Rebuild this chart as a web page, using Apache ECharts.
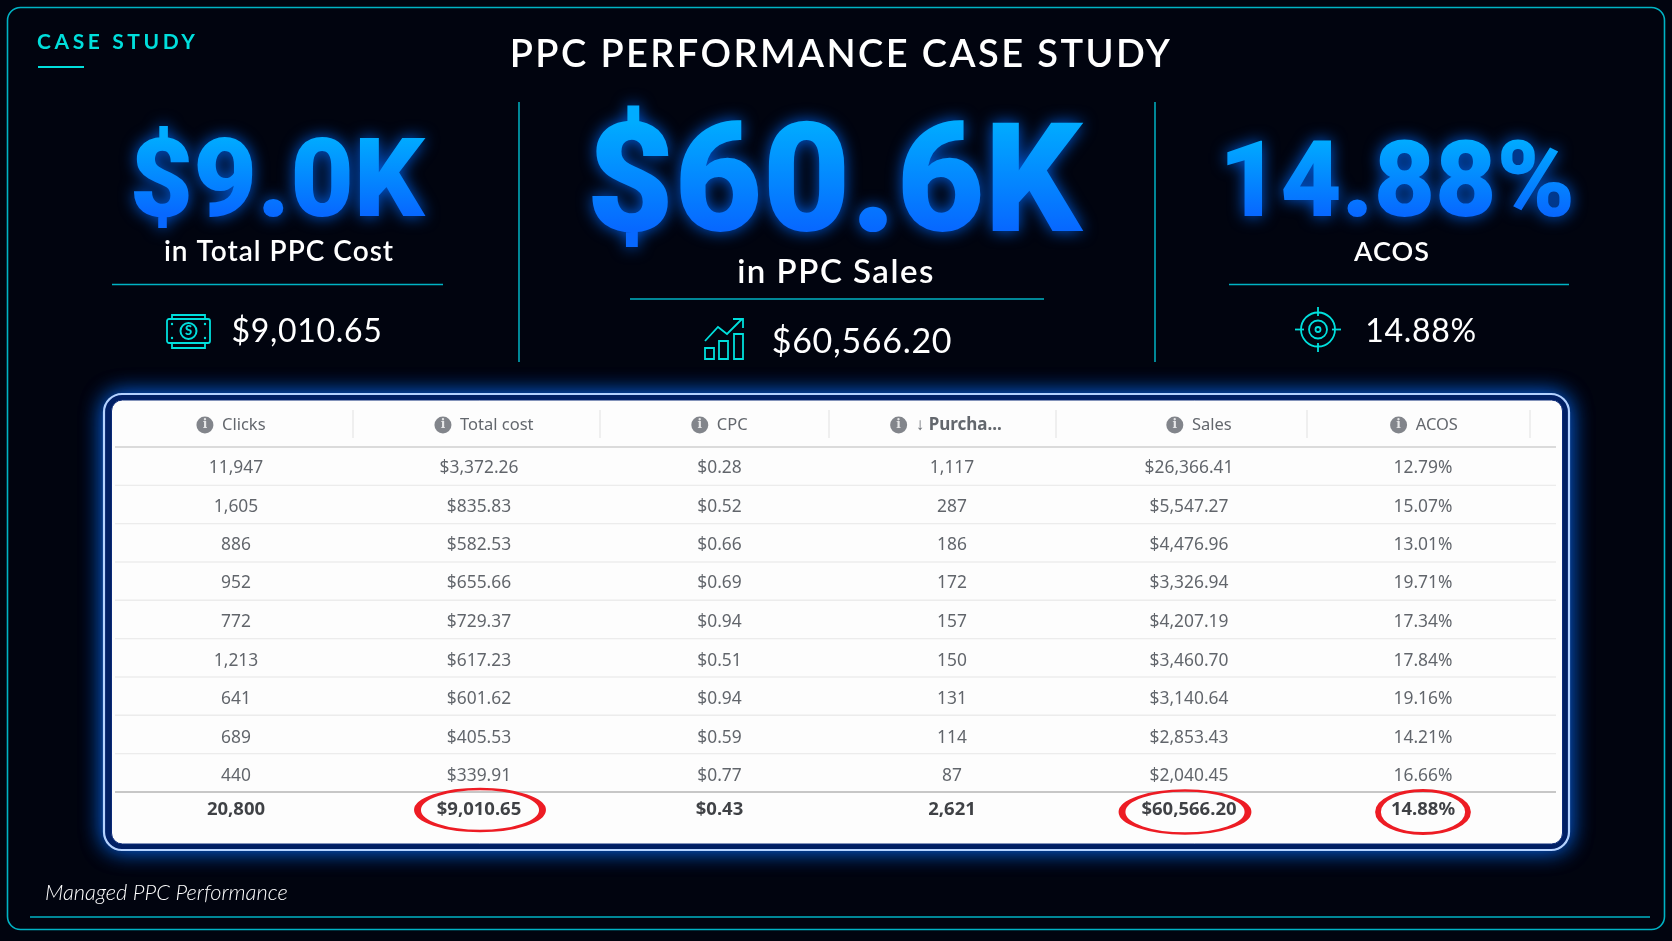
<!DOCTYPE html>
<html>
<head>
<meta charset="utf-8">
<title>PPC Performance Case Study</title>
<style>
html,body{margin:0;padding:0;background:#01040f;}
#main{width:1672px;height:941px;}
</style>
<script src="https://cdn.jsdelivr.net/npm/echarts@6/dist/echarts.min.js"></script>
</head>
<body>
<div id="main"></div>
<script>
// table data
var columns = ['Clicks', 'Total cost', 'CPC', 'Purcha...', 'Sales', 'ACOS'];
var clicks = [11947, 1605, 886, 952, 772, 1213, 641, 689, 440];
var totalCost = [3372.26, 835.83, 582.53, 655.66, 729.37, 617.23, 601.62, 405.53, 339.91];
var cpc = [0.28, 0.52, 0.66, 0.69, 0.94, 0.51, 0.94, 0.59, 0.77];
var purchases = [1117, 287, 186, 172, 157, 150, 131, 114, 87];
var sales = [26366.41, 5547.27, 4476.96, 3326.94, 4207.19, 3460.70, 3140.64, 2853.43, 2040.45];
var acos = [12.79, 15.07, 13.01, 19.71, 17.34, 17.84, 19.16, 14.21, 16.66];
var totals = [20800, 9010.65, 0.43, 2621, 60566.20, 14.88];
var circled = [1, 4, 5];

// headline texts
var heroTexts = ['$9.0K', '$60.6K', '14.88%'];
var heroLabels = ['in Total PPC Cost', 'in PPC Sales', 'ACOS'];
var heroExact = ['$9,010.65', '$60,566.20', '14.88%'];

function num(v) { return v.toLocaleString('en-US'); }
function money(v) { return '$' + v.toLocaleString('en-US', {minimumFractionDigits: 2, maximumFractionDigits: 2}); }
function pct(v) { return v.toFixed(2) + '%'; }
var formats = [num, money, money, num, money, pct];
var columnValues = [clicks, totalCost, cpc, purchases, sales, acos];

var TEAL = '#00b3c4';
var CYAN = '#00dfdc';
var LATO = 'Lato';
var HERO = 'Roboto';
var HERO_COLOR = '#0a8aff';
var TABLE = '"Noto Sans"';

var myChart = echarts.init(document.getElementById('main'));

// rows of the matrix: header, data rows, total
var rowNames = ['head'];
clicks.forEach(function (v, i) { rowNames.push('r' + i); });
rowNames.push('total');
var rowSizes = [44, 38, 39, 38, 38, 40, 38, 38, 39, 38, 34];

var headerNudge = [-5, 5, 0, -6, 10, 1];
var headerCells = columns.map(function (c, i) {
    var txt = (c === 'Purcha...') ? '{ic|i}  {b|↓ ' + c + '}' : '{ic|i}  ' + c;
    return {value: [columns[i], 'head', txt], label: {formatter: txt, offset: [headerNudge[i], 0]}};
});
var bodyCells = [];
columnValues.forEach(function (vals, c) {
    vals.forEach(function (v, r) {
        bodyCells.push({value: [columns[c], 'r' + r, formats[c](v)]});
    });
});
var totalCells = totals.map(function (v, c) {
    return {value: [columns[c], 'total', formats[c](v)]};
});
var circleSizes = {1: [125, 42], 4: [126, 43], 5: [90, 43]};
var circleOffsets = {1: [1, 0], 4: [-4, 2], 5: [0, 2]};
var circleCells = circled.map(function (c) {
    return {
        value: [columns[c], 'total'],
        symbolSize: circleSizes[c],
        symbolOffset: circleOffsets[c]
    };
});

function hLine(x1, x2, y, color, width, z) {
    return {type: 'line', silent: true, z: z || 1, shape: {x1: x1, y1: y, x2: x2, y2: y}, style: {stroke: color, lineWidth: width || 1.5}};
}
function vLine(x, y1, y2, color, width, z) {
    return {type: 'line', silent: true, z: z || 1, shape: {x1: x, y1: y1, x2: x, y2: y2}, style: {stroke: color, lineWidth: width || 1.5}};
}
function titleText(txt, x, y, size, weight, color, align, zlevel, italic) {
    return {
        text: txt, left: x, top: y, padding: 0, zlevel: zlevel || 0,
        textAlign: align || 'center', textVerticalAlign: 'middle',
        textStyle: {fontFamily: LATO, fontSize: size, fontWeight: weight, color: color, fontStyle: italic ? 'italic' : 'normal'}
    };
}
// zrender only assigns plain colours on text, so each big number gets its own layer
// and the gradient is pinned on that layer's context (text-local coordinates)
var gradCtx = document.createElement('canvas').getContext('2d');
var heroGradients = {};
function heroText(txt, x, y, size, zlevel) {
    var g = gradCtx.createLinearGradient(0, -0.47 * size, 0, 0.24 * size);
    g.addColorStop(0, '#00acff');
    g.addColorStop(1, '#0768ff');
    heroGradients[zlevel] = g;
    return {
        text: txt, left: x, top: y, padding: 0, zlevel: zlevel,
        textAlign: 'center', textVerticalAlign: 'middle',
        textStyle: {
            fontFamily: HERO, fontSize: size, fontWeight: 900, color: HERO_COLOR,
            textShadowBlur: 16, textShadowColor: 'rgba(0,105,255,0.85)'
        }
    };
}

// icons are plain line drawings
function cashIcon() {
    var s = {stroke: CYAN, lineWidth: 1.8, fill: 'none'};
    return {
        type: 'group', x: 167, y: 313, silent: true, children: [
            {type: 'rect', shape: {x: 0, y: 6, width: 43, height: 24, r: 2}, style: s},
            {type: 'polyline', shape: {points: [[5, 6], [5, 2], [38, 2], [38, 6]]}, style: s},
            {type: 'polyline', shape: {points: [[5, 30], [5, 35], [38, 35], [38, 30]]}, style: s},
            {type: 'circle', shape: {cx: 21.5, cy: 18, r: 8}, style: {stroke: CYAN, lineWidth: 2, fill: 'none'}},
            {type: 'text', style: {text: 'S', x: 21.5, y: 18, align: 'center', verticalAlign: 'middle', font: '900 13px ' + LATO, fill: CYAN}},
            {type: 'circle', shape: {cx: 5, cy: 11, r: 1.2}, style: {fill: CYAN}},
            {type: 'circle', shape: {cx: 38, cy: 11, r: 1.2}, style: {fill: CYAN}},
            {type: 'circle', shape: {cx: 5, cy: 25, r: 1.2}, style: {fill: CYAN}},
            {type: 'circle', shape: {cx: 38, cy: 25, r: 1.2}, style: {fill: CYAN}}
        ]
    };
}
function growthIcon() {
    var s = {stroke: CYAN, lineWidth: 1.8, fill: 'none'};
    return {
        type: 'group', x: 704, y: 318, silent: true, children: [
            {type: 'rect', shape: {x: 1, y: 30, width: 9, height: 11}, style: s},
            {type: 'rect', shape: {x: 15, y: 23, width: 9, height: 18}, style: s},
            {type: 'rect', shape: {x: 30, y: 16, width: 9, height: 25}, style: s},
            {type: 'polyline', shape: {points: [[1, 23], [14, 9], [23, 16], [38, 1]]}, style: s},
            {type: 'polyline', shape: {points: [[29, 1], [39, 1], [39, 10]]}, style: s}
        ]
    };
}
function targetIcon() {
    var s = {stroke: CYAN, lineWidth: 1.8, fill: 'none'};
    var cx = 23, cy = 22.5;
    return {
        type: 'group', x: 1295, y: 307, silent: true, children: [
            {type: 'circle', shape: {cx: cx, cy: cy, r: 17}, style: s},
            {type: 'circle', shape: {cx: cx, cy: cy, r: 9}, style: s},
            {type: 'circle', shape: {cx: cx, cy: cy, r: 2.5}, style: s},
            {type: 'line', shape: {x1: cx, y1: 0, x2: cx, y2: 9}, style: s},
            {type: 'line', shape: {x1: cx, y1: 36, x2: cx, y2: 45}, style: s},
            {type: 'line', shape: {x1: 0, y1: cy, x2: 9, y2: cy}, style: s},
            {type: 'line', shape: {x1: 37, y1: cy, x2: 46, y2: cy}, style: s}
        ]
    };
}

var titles = [
    titleText('CASE STUDY', 37, 42, 21, 700, CYAN, 'left', 2),
    titleText('PPC PERFORMANCE CASE STUDY', 841, 55, 38, 600, '#ffffff', 'center', 3),
    heroText(heroTexts[0], 277, 188, 110, 7),
    heroText(heroTexts[1], 834, 193, 152, 8),
    heroText(heroTexts[2], 1397, 189, 106, 9),
    titleText(heroLabels[0], 279, 252, 28, 600, '#ffffff', 'center', 5),
    titleText(heroLabels[1], 836, 272, 33, 600, '#ffffff', 'center', 6),
    titleText(heroLabels[2], 1392, 252, 27, 600, '#ffffff', 'center', 5),
    titleText(heroExact[0], 307, 332, 32, 400, '#ffffff', 'center', 4),
    titleText(heroExact[1], 862, 342, 34, 400, '#ffffff', 'center', 4),
    titleText(heroExact[2], 1421, 332, 32, 400, '#ffffff', 'center', 4),
    titleText('Managed PPC Performance', 45, 893, 21.8, 300, '#ffffff', 'left', 0, true)
];

var graphics = [
    // outer frame
    {type: 'rect', silent: true, shape: {x: 7.5, y: 7.5, width: 1657, height: 922, r: 13}, style: {fill: 'none', stroke: TEAL, lineWidth: 1.6}},
    hLine(30, 1650, 917, TEAL),
    hLine(38, 84, 67, CYAN, 2),
    vLine(519, 102, 362, TEAL),
    vLine(1155, 102, 362, TEAL),

    hLine(112, 443, 284.5, TEAL),
    hLine(630, 1044, 299, TEAL),
    hLine(1229, 1569, 284.5, TEAL),

    cashIcon(),
    growthIcon(),
    targetIcon(),

    // table panel with neon edge
    {type: 'rect', silent: true, z: -3, shape: {x: 104, y: 394, width: 1465, height: 456, r: 18}, style: {fill: '#021a58', stroke: '#b4d2ff', lineWidth: 2.2, shadowBlur: 22, shadowColor: '#0a6dff'}},
    {type: 'rect', silent: true, z: -2, shape: {x: 111.5, y: 400, width: 1451, height: 444, r: 11}, style: {fill: '#fdfdfd', stroke: '#0b2a78', lineWidth: 1}}
];

// header dividers
[353, 600, 829, 1056, 1307, 1530].forEach(function (x) {
    graphics.push(vLine(x, 410, 438, '#e6e6e6', 1.2));
});
// row lines
graphics.push(hLine(115, 1556, 447, '#cfcfcf', 1.6));
for (var r = 1; r < clicks.length; r++) {
    graphics.push(hLine(115, 1556, 447 + r * 38.33, '#ececec', 1.4));
}
graphics.push(hLine(115, 1556, 792, '#b4b4b4', 1.6));

var option = {
    backgroundColor: '#01040f',
    animation: false,
    tooltip: {show: false},
    title: titles,
    graphic: {elements: graphics},
    matrix: {
        left: 115, top: 403, width: 1441, height: 424,
        x: {
            show: false,
            data: [
                {value: columns[0], size: 242},
                {value: columns[1], size: 244},
                {value: columns[2], size: 237},
                {value: columns[3], size: 228},
                {value: columns[4], size: 246},
                {value: columns[5], size: 222},
                {value: 'end', size: 22}
            ]
        },
        y: {
            show: false,
            data: rowNames.map(function (n, i) {
                return {value: n, size: rowSizes[i]};
            })
        },
        body: {itemStyle: {borderWidth: 0, color: 'transparent'}},
        backgroundStyle: {color: 'transparent', borderWidth: 0}
    },
    series: [
        {
            name: 'Header', type: 'scatter', coordinateSystem: 'matrix', symbolSize: 1,
            itemStyle: {color: 'transparent'}, silent: true, z: 6,
            data: headerCells,
            label: {
                show: true, position: 'inside', color: '#3c4148', fontFamily: TABLE, fontSize: 16.5,
                rich: {
                    ic: {width: 17, height: 17, borderRadius: 9, backgroundColor: '#63666e', color: '#fff', align: 'center', fontFamily: 'DejaVu Serif', fontWeight: 700, fontSize: 12},
                    b: {fontWeight: 700, color: '#3c4148', fontFamily: TABLE, fontSize: 17}
                }
            }
        },
        {
            name: 'Rows', type: 'scatter', coordinateSystem: 'matrix', symbolSize: 1,
            itemStyle: {color: 'transparent'}, silent: true, z: 6,
            data: bodyCells,
            label: {
                show: true, position: 'inside', color: '#3a3f46', fontFamily: TABLE, fontSize: 17.4, offset: [0, 2.5],
                formatter: function (p) { return p.value[2]; }
            }
        },
        {
            name: 'Total', type: 'scatter', coordinateSystem: 'matrix', symbolSize: 1,
            itemStyle: {color: 'transparent'}, silent: true, z: 6,
            data: totalCells,
            label: {
                show: true, position: 'inside', color: '#0f1216', fontFamily: TABLE, fontSize: 18.5, fontWeight: 700,
                formatter: function (p) { return p.value[2]; }
            }
        },
        {
            name: 'Circled', type: 'scatter', coordinateSystem: 'matrix', silent: true, z: 7,
            itemStyle: {color: 'transparent', borderColor: '#ed1c24', borderWidth: 4, opacity: 1},
            data: circleCells
        }
    ]
};

// zrender has no tracking option, so set it on the canvas of each text layer before the first paint
var tracking = {2: '3.6px', 3: '2.4px', 4: '0.7px', 5: '1px', 6: '1.5px'};
var painter = myChart.getZr().painter;
Object.keys(tracking).forEach(function (z) {
    var layer = painter.getLayer(+z);
    if (layer && layer.ctx) layer.ctx.letterSpacing = tracking[z];
});
// only the big number's own colour is swapped for the gradient, the title box keeps its fill
var nativeFill = Object.getOwnPropertyDescriptor(CanvasRenderingContext2D.prototype, 'fillStyle');
Object.keys(heroGradients).forEach(function (z) {
    var ctx = painter.getLayer(+z).ctx;
    Object.defineProperty(ctx, 'fillStyle', {
        get: function () { return nativeFill.get.call(ctx); },
        set: function (v) { nativeFill.set.call(ctx, v === HERO_COLOR ? heroGradients[z] : v); }
    });
});
myChart.setOption(option, {lazyUpdate: true});
</script>
</body>
</html>
